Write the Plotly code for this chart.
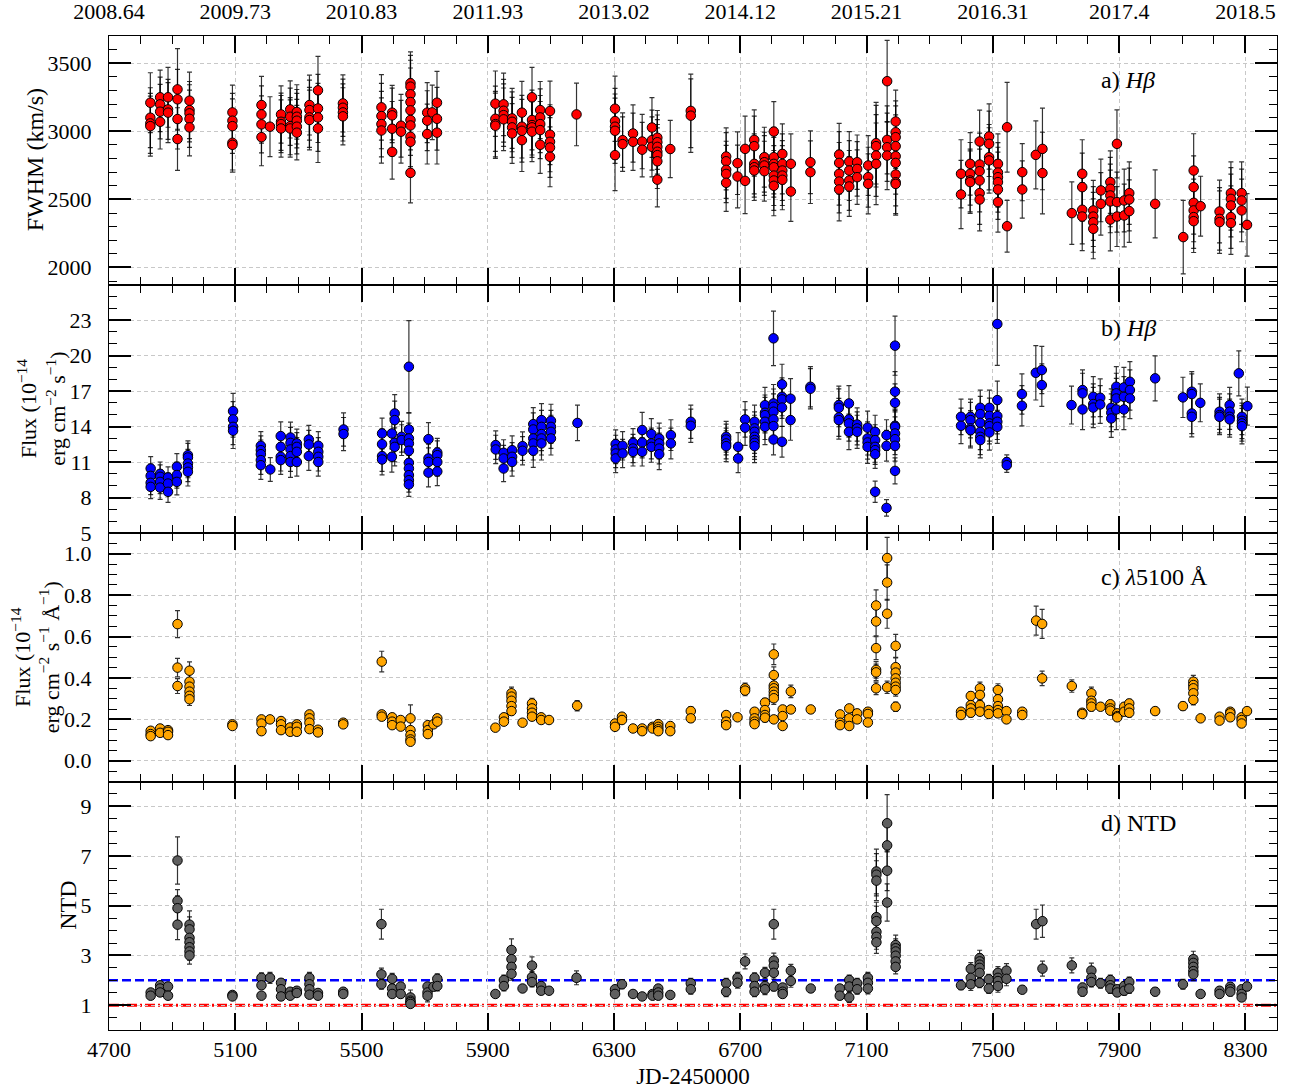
import plotly.graph_objects as go
from plotly.subplots import make_subplots

# ---------------- data ----------------
years_text = ["2008.64", "2009.73", "2010.83", "2011.93", "2013.02", "2014.12",
              "2015.21", "2016.31", "2017.4", "2018.5"]
x_ticks = [4700, 5100, 5500, 5900, 6300, 6700, 7100, 7500, 7900, 8300]

# Panel a: FWHM(Hbeta) km/s
fwhm_jd = [4831, 4862, 4887, 4917, 4955, 5091, 5183, 5210, 5245, 5274, 5295, 5335, 5362, 5441,
           5563, 5597, 5625, 5655, 5708, 5724, 5739, 5924, 5950, 5977, 6008, 6040, 6066, 6097, 6181,
           6303, 6327, 6360, 6389, 6420, 6437, 6478, 6543, 6655, 6691, 6715, 6744, 6776, 6806, 6833,
           6860, 6922, 7013, 7045, 7070, 7105, 7130, 7165, 7192, 7399, 7428, 7458, 7488, 7516, 7545,
           7593, 7636, 7657, 7750, 7783, 7818, 7842, 7872, 7893, 7916, 7932, 8014, 8103, 8136, 8158,
           8218, 8254, 8288, 8305]
fwhm_val = [[3210, 3100, 3058, 3038], [3250, 3198, 3144, 3070], [3250, 3161, 3137],
            [3308, 3235, 3090, 2943], [3225, 3156, 3132, 3092, 3029], [3139, 3078, 3038, 2916, 2901],
            [3193, 3124, 3051, 2957], [3034], [3124, 3070, 3053, 3021], [3161, 3107, 3038, 3021],
            [3142, 3107, 3078, 3034, 2990], [3193, 3156, 3102, 3083], [3301, 3168, 3102, 3021],
            [3205, 3173, 3139, 3110], [3176, 3112, 3053, 3006], [3137, 3117, 3019, 2849], [3041, 2997],
            [3353, 3328, 3272, 3215, 3154, 3083, 3043, 2960, 2923, 2695], [3137, 3078, 2980], [3139],
            [3210, 3092, 2990], [3203, 3092, 3053, 3041], [3198, 3151, 3119, 3088],
            [3095, 3070, 3029, 2984], [3137, 3034, 3004, 2935], [3250, 3083, 3046, 3029, 2997],
            [3156, 3102, 3053, 3009, 2901], [3149, 2975, 2923, 2881, 2813], [3124],
            [3166, 3075, 3034, 3004, 2825], [2935, 2906], [2984, 2923], [2925, 2865], [3028, 2935, 2886],
            [2953, 2920, 2886, 2850, 2825, 2780, 2645], [2870], [3150, 3115],
            [2815, 2780, 2717, 2687, 2622], [2766, 2668], [2871, 2636], [2937, 2891, 2761, 2736, 2712],
            [2810, 2773, 2749, 2707], [2998, 2810, 2761, 2736, 2675, 2639, 2600],
            [2834, 2761, 2712, 2675, 2644], [2761, 2558], [2773, 2700], [2829, 2768, 2688, 2631, 2573],
            [2778, 2712, 2639, 2595], [2773, 2724, 2663], [2749, 2663, 2614], [2913, 2891, 2822, 2761],
            [3368, 2937, 2883, 2822], [3072, 2993, 2957, 2891, 2817, 2768, 2683, 2626, 2614],
            [2688, 2536], [2761, 2688, 2639, 2627], [2925, 2756, 2707, 2639, 2546, 2499],
            [2962, 2908, 2810, 2786], [2761, 2697, 2663, 2627, 2573, 2480], [3030, 2303], [2700, 2573],
            [2827], [2871, 2693], [2399], [2688, 2590, 2424, 2374], [2419, 2374, 2332, 2284],
            [2566, 2467], [2627, 2578, 2529, 2485, 2352], [2908, 2480, 2374], [2492, 2382],
            [2546, 2499, 2414], [2467], [2223], [2712, 2590, 2475, 2419, 2370, 2340], [2450],
            [2411, 2357, 2333], [2546, 2504, 2455, 2370, 2326], [2546, 2492, 2419], [2313]]
fwhm_err = [220, 200, 220, [300, 220, 220, 230], 210, 200, 210, 220, 210, 210, 200, 220, 250, 210,
            240, 200, 230, [230, 230, 250, 250, 230, 220, 220, 220, 220, 220], 220, 200, 230, 240, 230,
            220, 230, 220, 210, 220, 230, [240, 240, 240, 240, 260], 200, 210, 200, 220, 200, 210, 270,
            210, 230, 240, 220, 220, 220, 220, 220, 230, 230, 220, 200, 220, 300, [300, 250, 250, 250],
            230, 250, 230, 230, 240, 220, [330, 190], 210, 250, 300, 230, 250, 220, 230, 230,
            [250, 220, 220], 230, 230, 250, 270, [270, 230, 230, 230, 230, 230], 220, 230, 230, 230, 230]

# Panel b: Hbeta flux
hb_jd = [4832, 4862, 4887, 4915, 4950, 5093, 5181, 5211, 5244, 5275, 5295, 5333, 5363, 5443, 5565,
         5596, 5605, 5627, 5650, 5712, 5740, 5925, 5950, 5977, 6010, 6044, 6070, 6100, 6184, 6305,
         6327, 6360, 6389, 6418, 6443, 6480, 6543, 6655, 6693, 6715, 6745, 6778, 6805, 6832, 6859,
         6922, 7012, 7044, 7070, 7103, 7127, 7163, 7190, 7399, 7429, 7460, 7489, 7514, 7544, 7592,
         7636, 7655, 7749, 7784, 7818, 7840, 7875, 7891, 7915, 7934, 8014, 8102, 8130, 8157, 8218,
         8250, 8279, 8289, 8306]
hb_val = [[10.45, 9.83, 9.24, 8.9], [10.0, 9.75, 9.32, 8.84], [9.69, 9.18, 8.48], [10.6, 9.9, 9.32],
          [11.58, 11.38, 10.87, 10.54, 10.17], [15.3, 14.6, 13.97, 13.64],
          [12.37, 12.0, 11.66, 11.16, 10.73], [10.37], [13.19, 12.28, 11.44, 11.16],
          [13.07, 12.62, 12.06, 11.5, 11.0], [12.57, 12.28, 11.86, 11.0], [12.9, 12.48, 11.5],
          [12.37, 11.86, 11.44, 11.0], [13.75, 13.36], [13.41, 12.51, 11.5, 11.21], [13.41, 11.44],
          [15.1, 14.54, 12.62, 12.28], [13.13, 12.85],
          [19.05, 13.75, 12.99, 12.57, 11.95, 10.93, 10.45, 9.89, 9.46, 9.1],
          [12.93, 11.3, 11.0, 10.1], [11.8, 11.58, 11.0, 10.2], [12.43, 12.06], [11.78, 11.3, 10.45],
          [12.0, 11.44, 11.0], [12.34, 11.95], [14.2, 13.75, 12.99, 12.57, 11.95],
          [14.54, 13.97, 13.36, 12.99, 12.57], [14.48, 13.97, 13.55, 12.99], [14.3],
          [12.51, 12.06, 11.72, 11.3], [12.37, 11.72], [12.62, 12.14, 11.86], [13.7, 12.65, 11.86],
          [13.36, 12.57, 12.28], [12.99, 12.57, 12.14, 11.66], [13.27, 12.57], [14.4, 14.06],
          [13.13, 12.9, 12.57, 12.34], [12.28, 11.3], [14.6, 13.9],
          [14.4, 13.84, 13.55, 13.13, 12.85, 12.62, 12.34], [15.8, 15.16, 14.96, 14.4, 13.97],
          [21.45, 15.95, 15.67, 15.25, 14.6, 14.03, 12.9], [17.56, 16.51, 16.29, 15.6, 12.71],
          [16.35, 14.54], [17.36, 17.19], [15.81, 15.58, 14.77, 14.54], [15.95, 14.6, 14.26, 13.55],
          [14.17, 13.84, 13.55], [13.9, 12.99, 12.65, 12.28], [13.55, 12.85, 12.28, 12.0, 11.66, 8.48],
          [13.27, 12.37, 7.12], [20.83, 16.94, 16.0, 14.06, 13.97, 13.41, 12.93, 12.37, 10.25],
          [14.82, 14.06], [14.82, 14.54, 13.84, 13.69], [15.58, 15.05, 14.31, 13.55, 13.13, 12.85],
          [15.58, 14.9, 14.26, 14.03, 13.5], [22.66, 16.23, 14.88, 14.4, 13.97], [11.0, 10.73],
          [16.74, 15.75], [18.54], [18.77, 17.5], [15.81], [17.08, 16.8, 15.44], [16.51, 15.9, 15.6],
          [16.43, 15.86], [15.58, 15.16, 14.68], [17.36, 16.8, 16.37, 15.44], [17.3, 16.51, 15.44],
          [17.78, 17.08, 16.37], [18.07], [16.46], [16.94, 16.74, 15.1, 14.82], [16.0],
          [15.25, 14.96, 14.82], [15.81, 15.25, 14.82, 14.6], [18.49], [14.82, 14.48, 14.26, 14.03],
          [15.72]]
hb_err = [1.0, 1.0, 0.9, 1.1, 1.2, 1.5, 1.2, 1.0, 1.2, 1.3, 1.2, 1.2, 1.2, 1.4, 1.3, 1.3, 1.6, 1.3,
          [3.9, 1.4, 1.3, 1.3, 1.2, 1.1, 1.1, 1.0, 1.0, 1.0], [1.4, 1.2, 1.2, 1.2], 1.2, 1.2, 1.1, 1.2,
          1.2, 1.4, 1.4, 1.4, 1.5, 1.2, 1.2, 1.2, [1.5, 1.3, 1.2], 1.3, 1.3, 1.3, 1.4, 1.3, 1.2, 1.5,
          1.4, 1.5, [2.3, 1.6, 1.5, 1.5, 1.5, 1.4, 1.3], [1.7, 1.6, 1.6, 1.6, 1.3], 1.7, 1.7, 1.6,
          1.5, 1.4, 1.4, [1.4, 1.3, 1.3, 1.2, 1.2, 0.9], [1.3, 1.3, 0.7],
          [2.5, 1.7, 1.6, 1.4, 1.4, 1.4, 1.3, 1.3, 1.1], 1.5, 1.5, 1.5, 1.5, [3.5, 1.6, 1.5, 1.5, 1.4],
          0.6, 1.7, 2.3, [2.0, 1.8], 1.6, 1.7, 1.7, 1.6, 1.6, 1.7, 1.7, 1.7, 1.9, 1.7, 1.7, 1.6, 1.5,
          1.5, 1.9, 1.5, 1.6]

# Panel c: continuum flux at 5100 A
c_jd = [4832, 4862, 4887, 4917, 4955, 5091, 5183, 5210, 5245, 5274, 5295, 5335, 5362, 5442, 5564,
        5597, 5624, 5655, 5710, 5728, 5740, 5924, 5951, 5975, 6010, 6040, 6069, 6094, 6183, 6303,
        6325, 6360, 6389, 6422, 6440, 6478, 6543, 6655, 6691, 6715, 6745, 6778, 6806, 6834, 6860,
        6923, 7016, 7045, 7070, 7104, 7130, 7165, 7192, 7399, 7430, 7459, 7487, 7516, 7543, 7593,
        7637, 7656, 7750, 7783, 7812, 7841, 7872, 7894, 7916, 7932, 8014, 8102, 8135, 8158, 8218,
        8252, 8288, 8305]
c_val = [[0.145, 0.129, 0.119], [0.156, 0.135], [0.148, 0.14, 0.124], [0.66, 0.45, 0.361],
         [0.435, 0.382, 0.358, 0.334, 0.314, 0.297], [0.176, 0.168], [0.2, 0.18, 0.143], [0.2],
         [0.192, 0.176, 0.148], [0.161, 0.14], [0.176, 0.164, 0.14], [0.224, 0.205, 0.184, 0.153],
         [0.15, 0.137], [0.184, 0.176], [0.479, 0.224, 0.213], [0.21, 0.189, 0.172], [0.197, 0.165],
         [0.205, 0.148, 0.124, 0.103, 0.092], [0.172, 0.148, 0.129], [0.176], [0.205, 0.189],
         [0.16], [0.21, 0.189], [0.326, 0.31, 0.29, 0.264, 0.24], [0.184],
         [0.277, 0.253, 0.232, 0.213], [0.21, 0.197], [0.197], [0.266], [0.18, 0.164],
         [0.213, 0.197], [0.156], [0.156, 0.143], [0.164, 0.156], [0.177, 0.164, 0.152, 0.143],
         [0.168, 0.143], [0.24, 0.205], [0.221, 0.189, 0.172], [0.21], [0.35, 0.339],
         [0.237, 0.205, 0.189, 0.177], [0.281, 0.245, 0.221, 0.208],
         [0.514, 0.414, 0.363, 0.35, 0.334, 0.318, 0.302, 0.2], [0.248, 0.216, 0.168],
         [0.335, 0.248], [0.248], [0.224, 0.184, 0.172], [0.253, 0.205, 0.168], [0.229, 0.2],
         [0.237, 0.226, 0.185], [0.75, 0.673, 0.544, 0.439, 0.427, 0.35], [0.979, 0.861, 0.71, 0.355],
         [0.555, 0.452, 0.426, 0.398, 0.377, 0.358, 0.342, 0.261], [0.237, 0.221],
         [0.313, 0.269, 0.253, 0.232], [0.35, 0.318, 0.269, 0.237], [0.245, 0.226],
         [0.342, 0.297, 0.264, 0.245, 0.229], [0.24, 0.2], [0.237, 0.221], [0.677], [0.661, 0.398],
         [0.361], [0.232, 0.226], [0.326, 0.29, 0.277, 0.261], [0.261], [0.273, 0.253, 0.242],
         [0.229, 0.216, 0.21], [0.261, 0.237], [0.277, 0.253, 0.232], [0.24], [0.264],
         [0.382, 0.366, 0.35, 0.326, 0.294], [0.205], [0.213, 0.194], [0.237, 0.229, 0.21],
         [0.21, 0.197, 0.18], [0.24]]
c_err = [0.012, 0.012, 0.012, [0.065, 0.045, 0.036], [0.043, 0.035, 0.033, 0.03, 0.03, 0.03], 0.012,
         0.013, 0.012, 0.012, 0.012, 0.012, 0.014, 0.012, 0.012, [0.05, 0.016, 0.015], 0.014, 0.013,
         [0.065, 0.013, 0.012, 0.01, 0.01], 0.012, 0.012, 0.014, 0.012, 0.014,
         [0.03, 0.028, 0.025, 0.022, 0.02], 0.013, [0.025, 0.02, 0.018, 0.016], 0.014, 0.013, 0.025,
         0.013, 0.014, 0.012, 0.012, 0.012, 0.012, 0.012, 0.02, 0.015, 0.014, 0.025, 0.016, 0.02,
         [0.05, 0.04, 0.035, 0.03, 0.03, 0.03, 0.03, 0.015], 0.016, [0.03, 0.018], 0.018, 0.015,
         0.016, 0.015, 0.016, [0.075, 0.07, 0.055, 0.04, 0.04, 0.03], [0.1, 0.085, 0.07, 0.03],
         [0.055, 0.045, 0.04, 0.035, 0.035, 0.03, 0.03, 0.022], 0.016, 0.02,
         [0.03, 0.025, 0.02, 0.018], 0.017, [0.03, 0.024, 0.02, 0.018, 0.017], 0.017, 0.016, 0.07,
         [0.07, 0.035], 0.03, 0.016, [0.03, 0.022, 0.02, 0.02], 0.018, 0.018, 0.016, 0.018, 0.02,
         0.017, 0.02, [0.03, 0.03, 0.03, 0.025, 0.024], 0.014, 0.015, 0.016, 0.015, 0.016]

# Panel d: NTD
d_jd = [4832, 4862, 4887, 4917, 4955, 5091, 5183, 5210, 5245, 5274, 5295, 5335, 5362, 5442, 5563,
        5597, 5624, 5655, 5709, 5728, 5740, 5924, 5951, 5975, 6010, 6040, 6069, 6094, 6181, 6303,
        6325, 6360, 6389, 6422, 6440, 6478, 6543, 6655, 6691, 6715, 6745, 6778, 6806, 6834, 6860,
        6923, 7015, 7045, 7070, 7104, 7131, 7165, 7192, 7399, 7430, 7458, 7487, 7516, 7543, 7593,
        7637, 7657, 7750, 7784, 7812, 7841, 7872, 7894, 7916, 7932, 8014, 8102, 8135, 8158, 8218,
        8252, 8288, 8305]
d_val = [[1.51, 1.38], [1.8, 1.67, 1.51], [1.75, 1.38], [6.82, 5.2, 4.9, 4.24],
         [4.24, 4.05, 3.71, 3.53, 3.33, 3.16, 3.0], [1.41, 1.35], [2.1, 1.8, 1.38], [2.1],
         [1.9, 1.64, 1.35], [1.54, 1.38], [1.58, 1.49], [2.1, 1.84, 1.64, 1.42], [1.49, 1.38],
         [1.54, 1.45], [4.26, 2.24, 1.84], [2.06, 1.67, 1.45], [1.75, 1.45], [1.31, 1.18, 1.12, 1.05],
         [1.75, 1.51, 1.38], [1.74], [2.06, 1.77], [1.45], [2.01, 1.77], [3.22, 2.85, 2.54, 2.26],
         [1.67], [2.59, 2.13, 1.93], [1.77, 1.58], [1.58], [2.1], [1.64, 1.45], [1.84], [1.45],
         [1.35], [1.45, 1.38], [1.67, 1.51, 1.38], [1.41], [1.88, 1.64], [1.88, 1.54], [2.1, 1.9],
         [2.76], [2.1, 1.77, 1.54], [2.3, 1.77, 1.64], [4.26, 2.79, 2.59, 2.3, 1.75],
         [1.71, 1.54, 1.45], [2.39, 1.97], [1.67], [1.67, 1.38], [2.01, 1.75, 1.31], [1.88, 1.64],
         [2.1, 1.9, 1.67], [6.38, 6.25, 6.01, 4.54, 4.38, 3.95, 3.75, 3.53], [8.32, 7.43, 6.41, 5.13],
         [3.42, 3.29, 3.16, 2.99, 2.76, 2.54], [1.8], [2.46, 2.1, 1.84],
         [2.89, 2.76, 2.63, 2.5, 2.3, 1.9], [2.04, 1.67], [2.3, 2.1, 1.97, 1.77], [2.39, 2.06],
         [1.62], [4.26], [4.38, 2.47], [2.6], [1.71, 1.54], [2.39, 2.1, 1.93], [1.88],
         [2.01, 1.8, 1.67], [1.64, 1.51], [1.77, 1.58], [1.93, 1.67], [1.54], [1.84],
         [2.85, 2.7, 2.54, 2.37, 2.24], [1.45], [1.58, 1.45], [1.74, 1.64, 1.54], [1.64, 1.45, 1.31],
         [1.75]]
d_err = [0.12, 0.15, 0.14, [0.95, 0.45, 0.5, 0.6], [0.55, 0.5, 0.45, 0.4, 0.4, 0.35, 0.35], 0.12,
         [0.2, 0.15, 0.12], 0.22, 0.15, 0.13, 0.13, [0.22, 0.17, 0.15, 0.13], 0.13, 0.13,
         [0.6, 0.25, 0.2], [0.22, 0.15, 0.13], 0.15, [0.3, 0.12, 0.12, 0.1], [0.15, 0.15, 0.25], 0.15,
         0.2, 0.13, 0.2, [0.45, 0.35, 0.3, 0.25], 0.15, [0.35, 0.22, 0.2], 0.15, 0.14, 0.28, 0.15,
         0.18, 0.13, 0.12, 0.13, 0.14, 0.13, 0.2, 0.2, 0.22, 0.3, 0.2, 0.22,
         [0.6, 0.3, 0.28, 0.25, 0.18], 0.15, 0.25, 0.16, 0.16, 0.2, 0.2, 0.22,
         [0.9, 0.85, 0.8, 0.6, 0.6, 0.5, 0.5, 0.45], [1.15, 0.9, 0.8, 0.75],
         [0.4, 0.38, 0.36, 0.35, 0.3, 0.28], 0.18, 0.25, [0.32, 0.3, 0.28, 0.27, 0.25, 0.2], 0.2,
         0.25, 0.28, 0.15, 0.6, [0.65, 0.3], 0.3, 0.17, [0.3, 0.22, 0.2], 0.2, 0.2, 0.16, 0.18, 0.2,
         0.16, 0.2, [0.32, 0.3, 0.28, 0.26, 0.25], 0.14, 0.15, 0.17, 0.15, 0.17]

ntd_levels = [2, 1]

panels = [
    ("a", fwhm_jd, fwhm_val, fwhm_err, "#ff0000"),
    ("b", hb_jd, hb_val, hb_err, "#0000ff"),
    ("c", c_jd, c_val, c_err, "#ffa500"),
    ("d", d_jd, d_val, d_err, "#5f5f5f"),
]


def flatten(jd, vals, errs):
    xs, ys, es = [], [], []
    for t, v, e in zip(jd, vals, errs):
        for i, y in enumerate(v):
            xs.append(t)
            ys.append(y)
            es.append(e[i] if isinstance(e, list) else e)
    return xs, ys, es


FONT = "Liberation Serif"
fig = make_subplots(rows=4, cols=1, vertical_spacing=0)

for r, (name, jd, vals, errs, col) in enumerate(panels, start=1):
    xs, ys, es = flatten(jd, vals, errs)
    fig.add_trace(go.Scatter(
        x=xs, y=ys, mode="markers",
        marker=dict(color=col, size=9.5, line=dict(color="black", width=1)),
        error_y=dict(type="data", array=es, color="rgba(0,0,0,0.8)", thickness=1.2, width=2.5),
        showlegend=False, hoverinfo="x+y"), row=r, col=1)

fig.add_hline(y=ntd_levels[0], row=4, col=1, layer="below",
              line=dict(color="#0000ff", width=2.5, dash="9px,4px"))
fig.add_hline(y=ntd_levels[1], row=4, col=1, layer="below",
              line=dict(color="#ff0000", width=3, dash="10px,3px,2px,3px"))

tick_font = dict(family=FONT, size=22, color="black")
common_axis = dict(showline=True, linecolor="black", linewidth=1, mirror="allticks",
                   ticks="inside", tickwidth=1.5, tickcolor="black", zeroline=False,
                   showgrid=True, gridcolor="#c8c8c8", gridwidth=1, griddash="4px,3px",
                   tickfont=tick_font, automargin=False)

domains = [[0.75, 1.0], [0.5, 0.75], [0.25, 0.5], [0.0, 0.25]]
for i in range(4):
    xa = "xaxis" if i == 0 else f"xaxis{i+1}"
    ya = "yaxis" if i == 0 else f"yaxis{i+1}"
    xcfg = dict(common_axis, range=[4700, 8400], tickvals=x_ticks, ticklen=17,
                minor=dict(ticks="inside", ticklen=8, tickwidth=1, tickcolor="black",
                           tick0=4700, dtick=100, showgrid=False),
                domain=[0, 1], anchor="y" if i == 0 else f"y{i+1}")
    if i == 0:
        xcfg.update(side="top", ticktext=years_text, showticklabels=True, ticklabelstandoff=7)
    elif i == 3:
        xcfg.update(ticktext=[str(v) for v in x_ticks], showticklabels=True, ticklabelstandoff=0,
                    title=dict(text="JD-2450000", font=dict(family=FONT, size=23), standoff=12))
    else:
        xcfg.update(showticklabels=False)
    if i > 0:
        xcfg["matches"] = "x"
    fig.update_layout({xa: xcfg})
    fig.update_layout({ya: dict(domain=domains[i])})

minor_y = dict(ticks="inside", ticklen=8, tickwidth=1, tickcolor="black", showgrid=False)
fig.update_layout(
    yaxis=dict(common_axis, range=[1875, 3700], tickvals=[2000, 2500, 3000, 3500], ticklen=22,
               minor=dict(minor_y, tick0=0, dtick=100), ticklabelstandoff=12),
    yaxis2=dict(common_axis, range=[5, 26], tickvals=[5, 8, 11, 14, 17, 20, 23], ticklen=22,
                minor=dict(minor_y, tick0=5, dtick=1), ticklabelstandoff=12),
    yaxis3=dict(common_axis, range=[-0.1, 1.1], tickvals=[0, 0.2, 0.4, 0.6, 0.8, 1.0],
                ticktext=["0.0", "0.2", "0.4", "0.6", "0.8", "1.0"], ticklen=22,
                minor=dict(minor_y, tick0=0, dtick=0.05), ticklabelstandoff=12),
    yaxis4=dict(common_axis, range=[0, 10], tickvals=[1, 3, 5, 7, 9], ticklen=22,
                minor=dict(minor_y, tick0=0, dtick=0.5), ticklabelstandoff=12),
)

# y-axis titles as rotated annotations (paper x measured from the plot's left edge)
PLOT_W = 1293 - 109 - 16
ytitles = [
    ("FWHM (km/s)", 35, 0.875, 24),
    ("Flux (10<sup>−14</sup><br>erg cm<sup>−2</sup> s<sup>−1</sup>)", 42, 0.625, 22),
    ("Flux (10<sup>−14</sup><br>erg cm<sup>−2</sup> s<sup>−1</sup> Å<sup>−1</sup>)", 35, 0.375, 22),
    ("NTD", 68, 0.125, 24),
]
for txt, px, yy, fs in ytitles:
    fig.add_annotation(text=txt, xref="paper", yref="paper", x=(px - 109) / PLOT_W, y=yy,
                       xanchor="center", yanchor="middle", textangle=-90, showarrow=False,
                       font=dict(family=FONT, size=fs, color="black"))

labels = [("a) <i>Hβ</i>", 0.956), ("b) <i>Hβ</i>", 0.706),
          ("c) <i>λ</i>5100 Å", 0.456), ("d) NTD", 0.208)]
for txt, yy in labels:
    fig.add_annotation(text=txt, xref="paper", yref="paper", x=0.848, y=yy,
                       xanchor="left", yanchor="middle", showarrow=False,
                       font=dict(family=FONT, size=24, color="black"))

fig.update_layout(
    width=1293, height=1089,
    margin=dict(l=109, r=16, t=36, b=59),
    paper_bgcolor="white", plot_bgcolor="white",
    font=dict(family=FONT, color="black"),
    showlegend=False,
)

fig.write_html("out.html", config={"displayModeBar": False},
               post_script="document.body.style.margin='0px';document.body.style.overflow='hidden';")
